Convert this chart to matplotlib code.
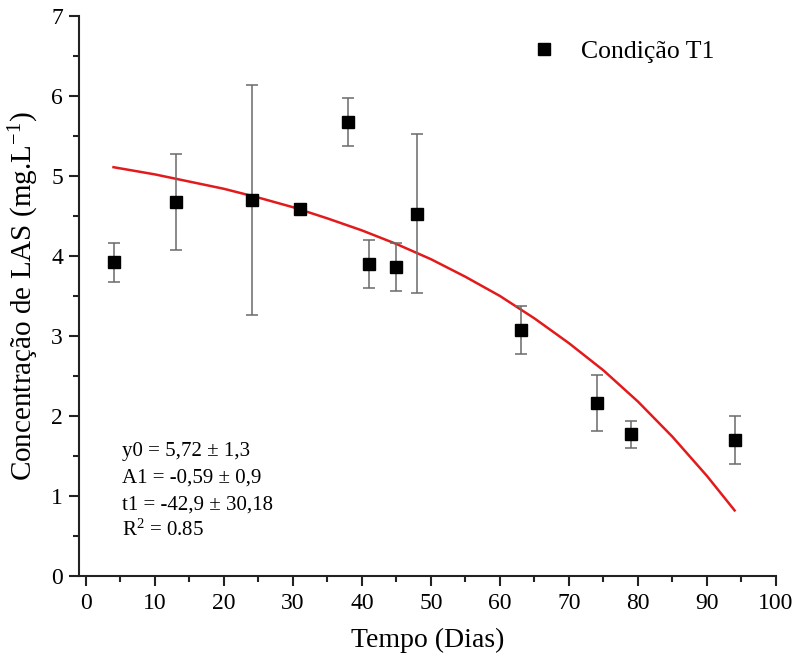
import matplotlib
matplotlib.use("Agg")
import matplotlib.pyplot as plt
from matplotlib.ticker import MultipleLocator

plt.rcParams['font.family'] = ['Liberation Serif', 'DejaVu Serif']
plt.rcParams['mathtext.fontset'] = 'custom'
plt.rcParams['mathtext.rm'] = 'Liberation Serif'
plt.rcParams['mathtext.it'] = 'Liberation Serif:italic'
plt.rcParams['mathtext.bf'] = 'Liberation Serif:bold'

# Data
days = [4, 13, 24, 31, 38, 41, 45, 48, 63, 74, 79, 94]
las = [3.92, 4.67, 4.70, 4.59, 5.67, 3.90, 3.86, 4.53, 3.07, 2.16, 1.77, 1.70]
las_err = [0.245, 0.60, 1.44, 0.04, 0.30, 0.30, 0.30, 0.99, 0.30, 0.35, 0.17, 0.30]

# Fitted curve
fit_days = [4, 10, 15, 20, 25, 30, 35, 40, 45, 50, 55, 60, 65, 70, 75, 80, 85, 90, 94]
fit_las = [5.11, 5.02, 4.93, 4.84, 4.73, 4.61, 4.47, 4.32, 4.15, 3.96, 3.74, 3.50,
           3.22, 2.91, 2.57, 2.18, 1.74, 1.25, 0.82]

fit_text = ["y0 = 5,72 ± 1,3", "A1 = -0,59 ± 0,9", "t1 = -42,9 ± 30,18", "R$^2$ = 0.85"]

fig = plt.figure(figsize=(7.97, 6.68), dpi=100)
ax = fig.add_axes([79/797, 1 - 576/668, (776 - 79)/797, (576 - 16)/668])

ax.plot(fit_days, fit_las, color='#e31a1c', lw=1.8, zorder=2)
ax.errorbar(days, las, yerr=las_err, fmt='none', ecolor='#6a6a6a', elinewidth=1.1,
            capsize=4, capthick=1.1, zorder=3)
ax.plot(days, las, linestyle='none', marker='s', markersize=8.5, color='black',
        zorder=4, label='Condição T1')

ax.set_xlim(-1, 100)
ax.set_ylim(0, 7)
ax.xaxis.set_major_locator(MultipleLocator(10))
ax.xaxis.set_minor_locator(MultipleLocator(5))
ax.yaxis.set_major_locator(MultipleLocator(1))
ax.yaxis.set_minor_locator(MultipleLocator(0.5))

for s in ['top', 'right']:
    ax.spines[s].set_visible(False)
for s in ['left', 'bottom']:
    ax.spines[s].set_linewidth(1.5)
    ax.spines[s].set_color('#222222')

ax.tick_params(which='major', direction='out', length=7.5, width=1.5, labelsize=17,
               color='#222222', pad=4)
ax.tick_params(which='minor', direction='out', length=4, width=1.5, color='#222222')
ax.tick_params(axis='x', which='major', pad=5)

ax.set_xlabel('Tempo (Dias)', fontsize=20, labelpad=10)
ax.set_ylabel('Concentração de LAS (mg.L$^{-1}$)', fontsize=21, labelpad=7)

ax.legend(loc='upper left', bbox_to_anchor=(0.623, 0.99), frameon=False, fontsize=18.5,
          handlelength=1.0, handletextpad=0.95, borderpad=0.2)

for i, t in enumerate(fit_text):
    ax.text(0.062, 0.215 - i * 0.0478, t, transform=ax.transAxes, fontsize=15,
            ha='left', va='baseline')

fig.savefig('out.png', dpi=100)
